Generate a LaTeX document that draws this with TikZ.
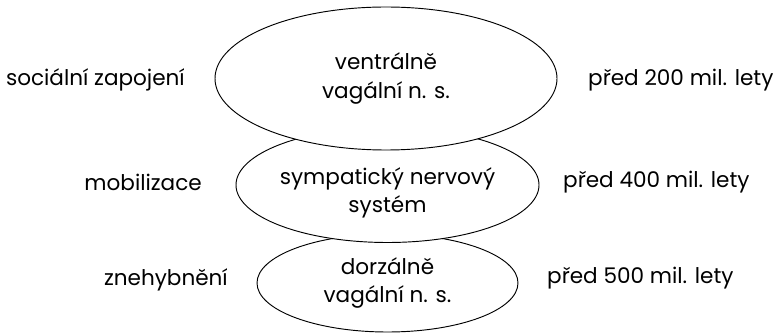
\documentclass[tikz,border=0pt]{standalone}
\usepackage{fontspec}
\setmainfont{Poppins}
\usetikzlibrary{shapes.geometric}

\begin{document}
\begin{tikzpicture}[
        layer/.style={
            ellipse,
            draw=black,
            fill=white,
            line width=0.8pt,
            inner sep=0pt,
            align=center,
            font=\fontsize{18.4}{24}\selectfont
        },
        state/.style={
            inner sep=0pt,
            align=center,
            font=\fontsize{18.4}{24}\selectfont
        }
    ]
        \useasboundingbox (0,0) rectangle (23.49,9.99);

        % Layers (lowest drawn first)
        \node[layer, minimum width=7.83cm, minimum height=2.94cm] (dorsal) at (11.625, 1.5) {dorzálně\\vagální n. s.};
        \node[layer, minimum width=9.09cm, minimum height=3.45cm] (sympat) at (11.625, 4.44) {};
        \node[state] (sympattext) at (11.625, 4.2) {sympatický nervový\\systém};
        \node[layer, minimum width=10.26cm, minimum height=4.29cm] (ventral) at (11.58, 7.635) {ventrálně\\vagální n. s.};

        % States
        \node[state, anchor=east] (social) at (5.55, 7.59) {sociální zapojení};
        \node[state, anchor=east] (mobil) at (6.06, 4.53) {mobilizace};
        \node[state, anchor=east] (freeze) at (6.84, 1.59) {znehybnění};

        % Ages
        \node[state, anchor=west] (age200) at (17.64, 7.59) {před 200 mil. lety};
        \node[state, anchor=west] (age400) at (16.89, 4.53) {před 400 mil. lety};
        \node[state, anchor=west] (age500) at (16.41, 1.65) {před 500 mil. lety};
    \end{tikzpicture}
\end{document}
